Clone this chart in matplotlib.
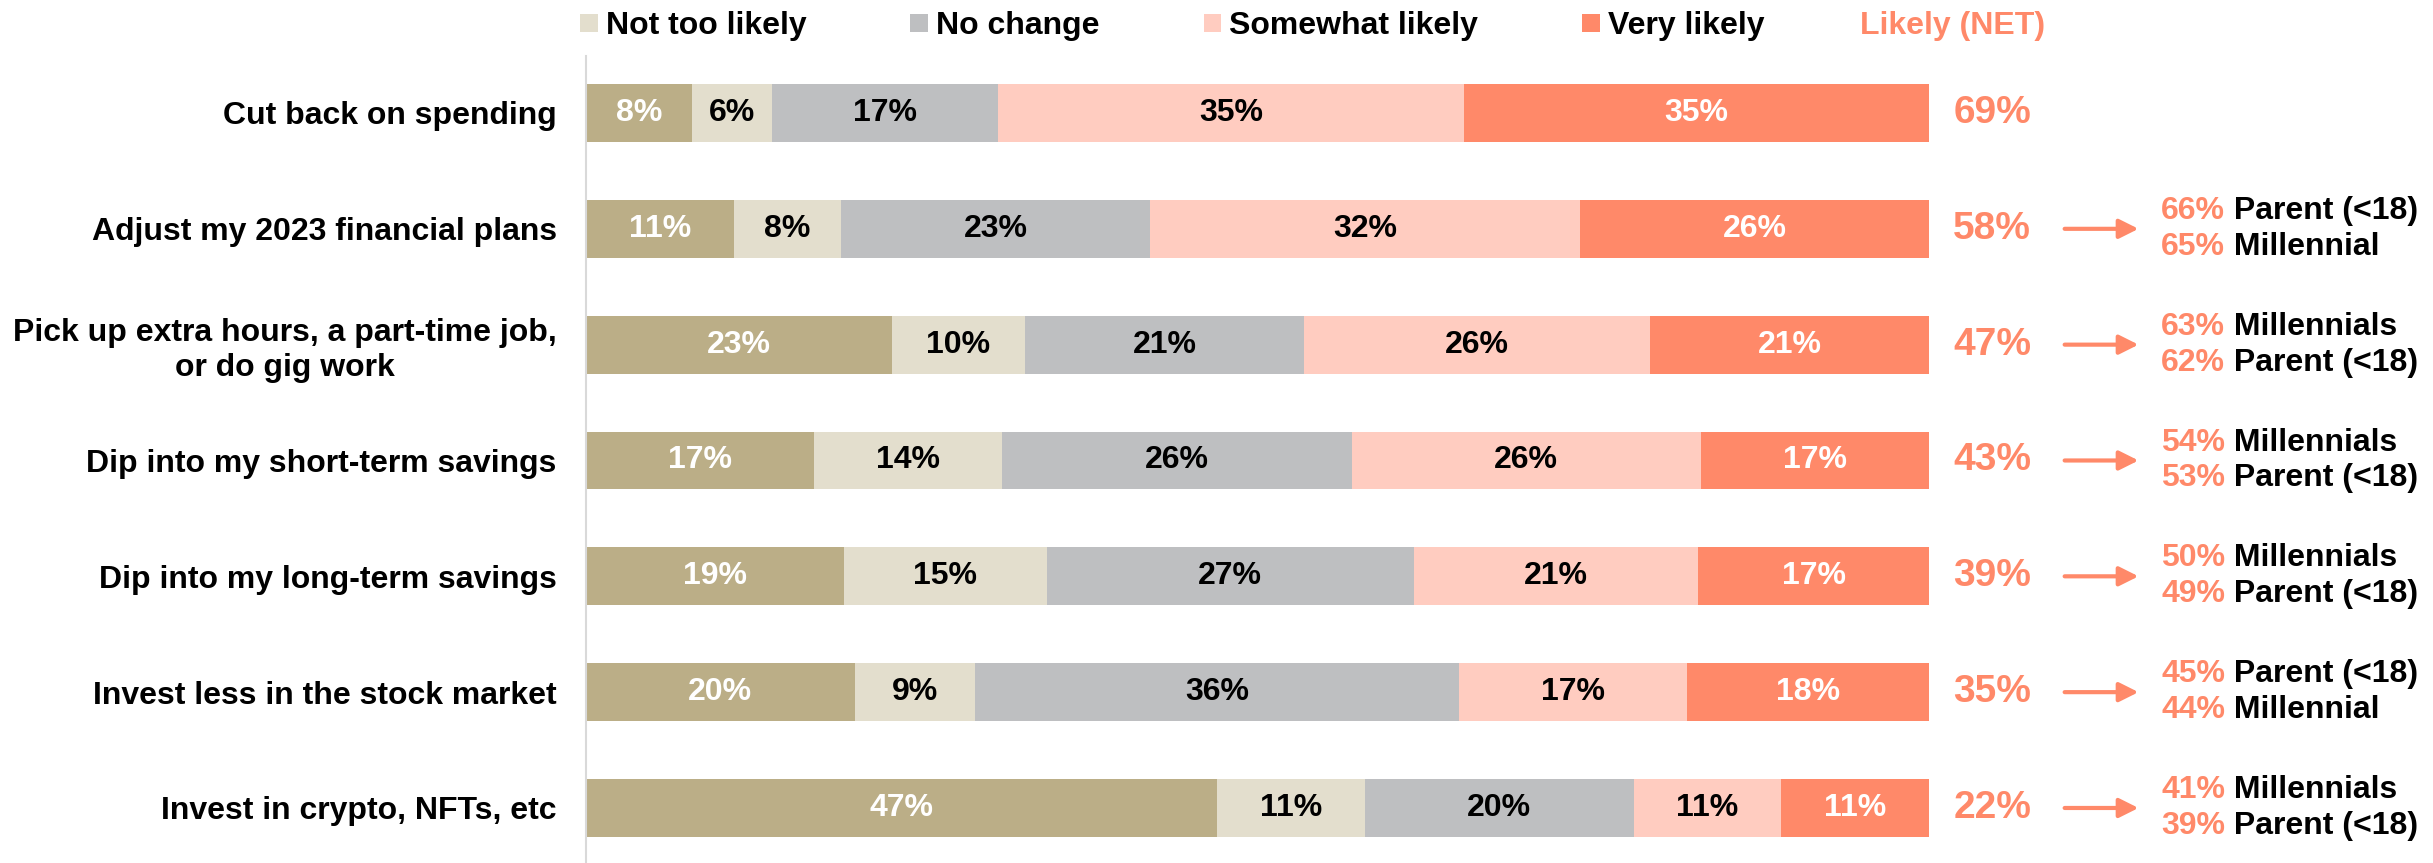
import numpy as np
import matplotlib
matplotlib.use("Agg")
import matplotlib.pyplot as plt
from matplotlib.patches import Patch

plt.rcParams['font.family'] = ['Liberation Sans', 'DejaVu Sans']
plt.rcParams['font.weight'] = 'bold'

categories = [
    "Cut back on spending",
    "Adjust my 2023 financial plans",
    "Pick up extra hours, a part-time job,\nor do gig work",
    "Dip into my short-term savings",
    "Dip into my long-term savings",
    "Invest less in the stock market",
    "Invest in crypto, NFTs, etc",
]
not_at_all = [8, 11, 23, 17, 19, 20, 47]
not_too = [6, 8, 10, 14, 15, 9, 11]
no_change = [17, 23, 21, 26, 27, 36, 20]
somewhat = [35, 32, 26, 26, 21, 17, 11]
very = [35, 26, 21, 17, 17, 18, 11]
net = [69, 58, 47, 43, 39, 35, 22]

sub_top_pct = [None, 66, 63, 54, 50, 45, 41]
sub_top_label = [None, "Parent (<18)", "Millennials", "Millennials", "Millennials", "Parent (<18)", "Millennials"]
sub_bot_pct = [None, 65, 62, 53, 49, 44, 39]
sub_bot_label = [None, "Millennial", "Parent (<18)", "Parent (<18)", "Parent (<18)", "Millennial", "Parent (<18)"]

legend_labels = ["Not too likely", "No change", "Somewhat likely", "Very likely"]

TAN = '#BBAE87'
BEIGE = '#E3DECD'
GREY = '#BEBFC1'
PINK = '#FFCCC0'
SALMON = '#FF8969'

series = [not_at_all, not_too, no_change, somewhat, very]
colors = [TAN, BEIGE, GREY, PINK, SALMON]
text_colors = ['white', 'black', 'black', 'black', 'white']

FS = 23

W, H = 2433, 863
fig = plt.figure(figsize=(W / 100, H / 100), dpi=100)
ax = fig.add_axes([586 / W, 0, (1929 - 586) / W, (863 - 56) / H])

data = np.array(series, dtype=float)
totals = data.sum(axis=0)
scaled = data / totals * 100
y = np.arange(len(categories))

left = np.zeros(len(categories))
for vals, sc, col, tc in zip(series, scaled, colors, text_colors):
    ax.barh(y, sc, left=left, height=0.5, color=col, edgecolor='none')
    for i in range(len(categories)):
        ax.text(left[i] + sc[i] / 2, y[i], f"{vals[i]}%", ha='center', va='center',
                color=tc, fontsize=FS, fontweight='bold')
    left += sc

ax.set_xlim(0, 100)
ax.set_ylim(6.475, -0.492)
ax.set_yticks(y)
ax.set_yticklabels(categories, fontsize=FS, fontweight='bold')
for lab in ax.get_yticklabels():
    lab.set_multialignment('center')
ax.tick_params(axis='y', length=0, pad=21)
ax.set_xticks([])
for s in ['top', 'right', 'bottom']:
    ax.spines[s].set_visible(False)
ax.spines['left'].set_color('#D9D9D9')
ax.spines['left'].set_linewidth(1.5)

# NET values and subgroup call-outs
for i in range(len(categories)):
    ax.text(101.8, y[i], f"{net[i]}%", ha='left', va='center', color=SALMON,
            fontsize=28, fontweight='bold', clip_on=False)
    if sub_top_pct[i] is None:
        continue
    ax.annotate('', xy=(115.6, y[i]), xytext=(110.1, y[i]), annotation_clip=False,
                arrowprops=dict(arrowstyle='-|>', color=SALMON, lw=3,
                                mutation_scale=29, shrinkA=0, shrinkB=0))
    for dy, pct, lab in [(-0.155, sub_top_pct[i], sub_top_label[i]),
                         (0.155, sub_bot_pct[i], sub_bot_label[i])]:
        t = ax.text(117.3, y[i] + dy, f"{pct}%", ha='left', va='center', color=SALMON,
                    fontsize=FS, fontweight='bold', clip_on=False)
        ax.annotate(" " + lab, xy=(1, 0.5), xycoords=t, ha='left', va='center',
                    color='black', fontsize=FS, fontweight='bold')

handles = [Patch(facecolor=c, edgecolor='none') for c in colors[1:]]
fig.legend(handles, legend_labels, loc='center left', bbox_to_anchor=(580 / W, 1 - 26 / H),
           ncol=4, frameon=False, handlelength=0.56, handleheight=0.48, handletextpad=0.25,
           columnspacing=3.25, borderpad=0, borderaxespad=0,
           prop={'size': FS, 'weight': 'bold'})
fig.text(1860 / W, 1 - 26 / H, "Likely (NET)", ha='left', va='center', color=SALMON,
         fontsize=FS, fontweight='bold')

fig.savefig('out.png', dpi=100)
